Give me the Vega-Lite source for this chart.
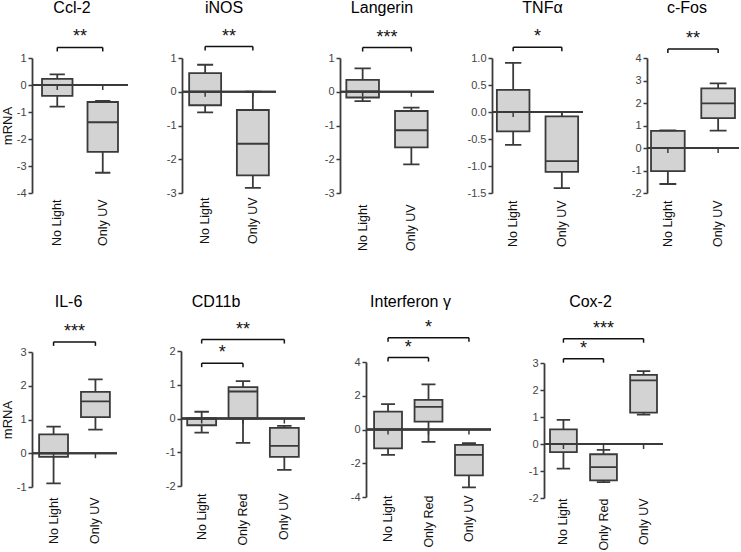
{
"$schema": "https://vega.github.io/schema/vega-lite/v6.json",
"padding": {"left": 1, "top": 0, "right": 0, "bottom": 0},
"datasets": {
"boxes": [
{"gene":"Ccl-2","group":"No Light","min":-0.8,"q1":-0.4,"med":0,"q3":0.23,"max":0.39},
{"gene":"Ccl-2","group":"Only UV","min":-3.25,"q1":-2.48,"med":-1.38,"q3":-0.63,"max":-0.59},
{"gene":"iNOS","group":"No Light","min":-0.61,"q1":-0.4,"med":0,"q3":0.55,"max":0.8},
{"gene":"iNOS","group":"Only UV","min":-2.85,"q1":-2.48,"med":-1.54,"q3":-0.54,"max":0},
{"gene":"Langerin","group":"No Light","min":-0.28,"q1":-0.17,"med":0.01,"q3":0.35,"max":0.69},
{"gene":"Langerin","group":"Only UV","min":-2.15,"q1":-1.65,"med":-1.14,"q3":-0.57,"max":-0.47},
{"gene":"TNFα","group":"No Light","min":-0.61,"q1":-0.36,"med":0,"q3":0.41,"max":0.91},
{"gene":"TNFα","group":"Only UV","min":-1.41,"q1":-1.11,"med":-0.91,"q3":-0.08,"max":0},
{"gene":"c-Fos","group":"No Light","min":-1.6,"q1":-1.03,"med":0,"q3":0.76,"max":0.78},
{"gene":"c-Fos","group":"Only UV","min":0.77,"q1":1.33,"med":1.98,"q3":2.65,"max":2.87},
{"gene":"IL-6","group":"No Light","min":-0.89,"q1":-0.11,"med":0,"q3":0.56,"max":0.79},
{"gene":"IL-6","group":"Only UV","min":0.7,"q1":1.07,"med":1.54,"q3":1.82,"max":2.19},
{"gene":"CD11b","group":"No Light","min":-0.42,"q1":-0.2,"med":0,"q3":0,"max":0.2},
{"gene":"CD11b","group":"Only Red","min":-0.72,"q1":0,"med":0.8,"q3":0.93,"max":1.11},
{"gene":"CD11b","group":"Only UV","min":-1.52,"q1":-1.14,"med":-0.81,"q3":-0.28,"max":-0.22},
{"gene":"Interferon γ","group":"No Light","min":-1.5,"q1":-1.12,"med":0,"q3":1.06,"max":1.5},
{"gene":"Interferon γ","group":"Only Red","min":-0.73,"q1":0.47,"med":1.34,"q3":1.75,"max":2.68},
{"gene":"Interferon γ","group":"Only UV","min":-3.43,"q1":-2.72,"med":-1.5,"q3":-0.91,"max":-0.81},
{"gene":"Cox-2","group":"No Light","min":-0.91,"q1":-0.3,"med":0,"q3":0.54,"max":0.89},
{"gene":"Cox-2","group":"Only Red","min":-1.41,"q1":-1.35,"med":-0.86,"q3":-0.38,"max":-0.22},
{"gene":"Cox-2","group":"Only UV","min":1.09,"q1":1.16,"med":2.36,"q3":2.56,"max":2.7}
],
"brackets": [
{"gene":"Ccl-2","from":"No Light","to":"Only UV","level":1.39,"stars":"**","mode":"mid"},
{"gene":"iNOS","from":"No Light","to":"Only UV","level":1.34,"stars":"**","mode":"mid"},
{"gene":"Langerin","from":"No Light","to":"Only UV","level":1.31,"stars":"***","mode":"mid"},
{"gene":"TNFα","from":"No Light","to":"Only UV","level":1.2,"stars":"*","mode":"mid"},
{"gene":"c-Fos","from":"No Light","to":"Only UV","level":4.4,"stars":"**","mode":"mid"},
{"gene":"IL-6","from":"No Light","to":"Only UV","level":3.3,"stars":"***","mode":"mid"},
{"gene":"CD11b","from":"No Light","to":"Only UV","level":2.34,"stars":"**","mode":"mid"},
{"gene":"CD11b","from":"No Light","to":"Only Red","level":1.64,"stars":"*","mode":"pair"},
{"gene":"Interferon γ","from":"No Light","to":"Only UV","level":5.44,"stars":"*","mode":"mid"},
{"gene":"Interferon γ","from":"No Light","to":"Only Red","level":4.26,"stars":"*","mode":"pair"},
{"gene":"Cox-2","from":"No Light","to":"Only UV","level":3.9,"stars":"***","mode":"mid"},
{"gene":"Cox-2","from":"No Light","to":"Only Red","level":3.16,"stars":"*","mode":"pair"}
]
},
"vconcat": [
{"spacing": 10, "hconcat": [
{"width":96,"height":173,"title":{"text":"Ccl-2","dx":-8},
"layer":[
{"data":{"name":"boxes"},"transform":[{"filter":{"field":"gene","equal":"Ccl-2"}}],
"layer":[
{"mark":{"type":"rule","stroke":"#3a3a3a","strokeWidth":1.8},"encoding":{"x":{"field":"group","type":"nominal","bandPosition":0.5,"scale":{"domain":["No Light","Only UV"],"paddingInner":0.33,"paddingOuter":0.22},"axis":{"title":null,"labelPadding":6}},"y":{"field":"min","type":"quantitative","scale":{"domain":[-4,1],"range":[173,38],"nice":false,"zero":false},"axis":{"title":"mRNA","values":[-4,-3,-2,-1,0,1],"tickCount":6,"labelOverlap":false,"labelExpr":"replace(datum.label, '−', '-')","minExtent":16,"maxExtent":16}},"y2":{"field":"max"}}},
{"mark":{"type":"bar","fill":"#d3d3d3","stroke":"#3a3a3a","strokeWidth":1.8},"encoding":{"x":{"field":"group","type":"nominal"},"y":{"field":"q1","type":"quantitative"},"y2":{"field":"q3"}}},
{"mark":{"type":"bar","fillOpacity":0,"stroke":"#3a3a3a","strokeWidth":1.8},"encoding":{"x":{"field":"group","type":"nominal"},"y":{"field":"med","type":"quantitative"},"y2":{"field":"med"}}},
{"mark":{"type":"bar","fillOpacity":0,"stroke":"#3a3a3a","strokeWidth":1.8,"width":{"band":0.5}},"encoding":{"x":{"field":"group","type":"nominal"},"y":{"field":"max","type":"quantitative"},"y2":{"field":"max"}}},
{"mark":{"type":"bar","fillOpacity":0,"stroke":"#3a3a3a","strokeWidth":1.8,"width":{"band":0.5}},"encoding":{"x":{"field":"group","type":"nominal"},"y":{"field":"min","type":"quantitative"},"y2":{"field":"min"}}},
{"mark":{"type":"rule","stroke":"#3a3a3a","strokeWidth":1.8},"encoding":{"y":{"datum":0,"type":"quantitative"}}},
{"mark":{"type":"rule","stroke":"#3a3a3a","strokeWidth":1.5,"y2Offset":5},"encoding":{"x":{"field":"group","type":"nominal","bandPosition":0.5},"y":{"datum":0,"type":"quantitative"},"y2":{"datum":0}}}
]},
{"data":{"name":"brackets"},"transform":[{"filter":{"field":"gene","equal":"Ccl-2"}}],
"layer":[
{"mark":{"type":"rule","stroke":"#111","strokeWidth":1.5},"encoding":{"x":{"field":"from","type":"nominal","bandPosition":0.5},"x2":{"field":"to","bandPosition":0.5},"y":{"field":"level","type":"quantitative"}}},
{"mark":{"type":"rule","stroke":"#111","strokeWidth":1.5,"y2Offset":4},"encoding":{"x":{"field":"from","type":"nominal","bandPosition":0.5},"y":{"field":"level","type":"quantitative"},"y2":{"field":"level"}}},
{"mark":{"type":"rule","stroke":"#111","strokeWidth":1.5,"y2Offset":4},"encoding":{"x":{"field":"to","type":"nominal","bandPosition":0.5},"y":{"field":"level","type":"quantitative"},"y2":{"field":"level"}}},
{"transform":[{"filter":{"field":"mode","equal":"mid"}}],"mark":{"type":"text","fontSize":18,"dy":-5,"baseline":"alphabetic","color":"#111"},"encoding":{"y":{"field":"level","type":"quantitative"},"text":{"field":"stars"}}}
]}
]},
{"width":94,"height":173,"title":{"text":"iNOS","dx":-5},
"layer":[
{"data":{"name":"boxes"},"transform":[{"filter":{"field":"gene","equal":"iNOS"}}],
"layer":[
{"mark":{"type":"rule","stroke":"#3a3a3a","strokeWidth":1.8},"encoding":{"x":{"field":"group","type":"nominal","bandPosition":0.5,"scale":{"domain":["No Light","Only UV"],"paddingInner":0.33,"paddingOuter":0.15},"axis":{"title":null,"labelPadding":4}},"y":{"field":"min","type":"quantitative","scale":{"domain":[-3,1],"range":[173,38],"nice":false,"zero":false},"axis":{"title":null,"values":[-3,-2,-1,0,1],"tickCount":5,"labelOverlap":false,"labelExpr":"replace(datum.label, '−', '-')","minExtent":43}},"y2":{"field":"max"}}},
{"mark":{"type":"bar","fill":"#d3d3d3","stroke":"#3a3a3a","strokeWidth":1.8},"encoding":{"x":{"field":"group","type":"nominal"},"y":{"field":"q1","type":"quantitative"},"y2":{"field":"q3"}}},
{"mark":{"type":"bar","fillOpacity":0,"stroke":"#3a3a3a","strokeWidth":1.8},"encoding":{"x":{"field":"group","type":"nominal"},"y":{"field":"med","type":"quantitative"},"y2":{"field":"med"}}},
{"mark":{"type":"bar","fillOpacity":0,"stroke":"#3a3a3a","strokeWidth":1.8,"width":{"band":0.5}},"encoding":{"x":{"field":"group","type":"nominal"},"y":{"field":"max","type":"quantitative"},"y2":{"field":"max"}}},
{"mark":{"type":"bar","fillOpacity":0,"stroke":"#3a3a3a","strokeWidth":1.8,"width":{"band":0.5}},"encoding":{"x":{"field":"group","type":"nominal"},"y":{"field":"min","type":"quantitative"},"y2":{"field":"min"}}},
{"mark":{"type":"rule","stroke":"#3a3a3a","strokeWidth":1.8},"encoding":{"y":{"datum":0,"type":"quantitative"}}},
{"mark":{"type":"rule","stroke":"#3a3a3a","strokeWidth":1.5,"y2Offset":5},"encoding":{"x":{"field":"group","type":"nominal","bandPosition":0.5},"y":{"datum":0,"type":"quantitative"},"y2":{"datum":0}}}
]},
{"data":{"name":"brackets"},"transform":[{"filter":{"field":"gene","equal":"iNOS"}}],
"layer":[
{"mark":{"type":"rule","stroke":"#111","strokeWidth":1.5},"encoding":{"x":{"field":"from","type":"nominal","bandPosition":0.5},"x2":{"field":"to","bandPosition":0.5},"y":{"field":"level","type":"quantitative"}}},
{"mark":{"type":"rule","stroke":"#111","strokeWidth":1.5,"y2Offset":4},"encoding":{"x":{"field":"from","type":"nominal","bandPosition":0.5},"y":{"field":"level","type":"quantitative"},"y2":{"field":"level"}}},
{"mark":{"type":"rule","stroke":"#111","strokeWidth":1.5,"y2Offset":4},"encoding":{"x":{"field":"to","type":"nominal","bandPosition":0.5},"y":{"field":"level","type":"quantitative"},"y2":{"field":"level"}}},
{"transform":[{"filter":{"field":"mode","equal":"mid"}}],"mark":{"type":"text","fontSize":18,"dy":-5,"baseline":"alphabetic","color":"#111"},"encoding":{"y":{"field":"level","type":"quantitative"},"text":{"field":"stars"}}}
]}
]},
{"width":94,"height":173,"title":{"text":"Langerin","dx":-5},
"layer":[
{"data":{"name":"boxes"},"transform":[{"filter":{"field":"gene","equal":"Langerin"}}],
"layer":[
{"mark":{"type":"rule","stroke":"#3a3a3a","strokeWidth":1.8},"encoding":{"x":{"field":"group","type":"nominal","bandPosition":0.5,"scale":{"domain":["No Light","Only UV"],"paddingInner":0.33,"paddingOuter":0.13},"axis":{"title":null,"labelPadding":11}},"y":{"field":"min","type":"quantitative","scale":{"domain":[-3,1],"range":[173,38],"nice":false,"zero":false},"axis":{"title":null,"values":[-3,-2,-1,0,1],"tickCount":5,"labelOverlap":false,"labelExpr":"replace(datum.label, '−', '-')","minExtent":53}},"y2":{"field":"max"}}},
{"mark":{"type":"bar","fill":"#d3d3d3","stroke":"#3a3a3a","strokeWidth":1.8},"encoding":{"x":{"field":"group","type":"nominal"},"y":{"field":"q1","type":"quantitative"},"y2":{"field":"q3"}}},
{"mark":{"type":"bar","fillOpacity":0,"stroke":"#3a3a3a","strokeWidth":1.8},"encoding":{"x":{"field":"group","type":"nominal"},"y":{"field":"med","type":"quantitative"},"y2":{"field":"med"}}},
{"mark":{"type":"bar","fillOpacity":0,"stroke":"#3a3a3a","strokeWidth":1.8,"width":{"band":0.5}},"encoding":{"x":{"field":"group","type":"nominal"},"y":{"field":"max","type":"quantitative"},"y2":{"field":"max"}}},
{"mark":{"type":"bar","fillOpacity":0,"stroke":"#3a3a3a","strokeWidth":1.8,"width":{"band":0.5}},"encoding":{"x":{"field":"group","type":"nominal"},"y":{"field":"min","type":"quantitative"},"y2":{"field":"min"}}},
{"mark":{"type":"rule","stroke":"#3a3a3a","strokeWidth":1.8},"encoding":{"y":{"datum":0,"type":"quantitative"}}},
{"mark":{"type":"rule","stroke":"#3a3a3a","strokeWidth":1.5,"y2Offset":5},"encoding":{"x":{"field":"group","type":"nominal","bandPosition":0.5},"y":{"datum":0,"type":"quantitative"},"y2":{"datum":0}}}
]},
{"data":{"name":"brackets"},"transform":[{"filter":{"field":"gene","equal":"Langerin"}}],
"layer":[
{"mark":{"type":"rule","stroke":"#111","strokeWidth":1.5},"encoding":{"x":{"field":"from","type":"nominal","bandPosition":0.5},"x2":{"field":"to","bandPosition":0.5},"y":{"field":"level","type":"quantitative"}}},
{"mark":{"type":"rule","stroke":"#111","strokeWidth":1.5,"y2Offset":4},"encoding":{"x":{"field":"from","type":"nominal","bandPosition":0.5},"y":{"field":"level","type":"quantitative"},"y2":{"field":"level"}}},
{"mark":{"type":"rule","stroke":"#111","strokeWidth":1.5,"y2Offset":4},"encoding":{"x":{"field":"to","type":"nominal","bandPosition":0.5},"y":{"field":"level","type":"quantitative"},"y2":{"field":"level"}}},
{"transform":[{"filter":{"field":"mode","equal":"mid"}}],"mark":{"type":"text","fontSize":18,"dy":-5,"baseline":"alphabetic","color":"#111"},"encoding":{"y":{"field":"level","type":"quantitative"},"text":{"field":"stars"}}}
]}
]},
{"width":91,"height":173,"title":{"text":"TNFα","dx":5},
"layer":[
{"data":{"name":"boxes"},"transform":[{"filter":{"field":"gene","equal":"TNFα"}}],
"layer":[
{"mark":{"type":"rule","stroke":"#3a3a3a","strokeWidth":1.8},"encoding":{"x":{"field":"group","type":"nominal","bandPosition":0.5,"scale":{"domain":["No Light","Only UV"],"paddingInner":0.33,"paddingOuter":0.1},"axis":{"title":null,"labelPadding":7}},"y":{"field":"min","type":"quantitative","scale":{"domain":[-1.5,1],"range":[173,38],"nice":false,"zero":false},"axis":{"title":null,"values":[-1.5,-1,-0.5,0,0.5,1],"tickCount":6,"labelOverlap":false,"format":".1f","labelExpr":"replace(datum.label, '−', '-')","minExtent":47}},"y2":{"field":"max"}}},
{"mark":{"type":"bar","fill":"#d3d3d3","stroke":"#3a3a3a","strokeWidth":1.8},"encoding":{"x":{"field":"group","type":"nominal"},"y":{"field":"q1","type":"quantitative"},"y2":{"field":"q3"}}},
{"mark":{"type":"bar","fillOpacity":0,"stroke":"#3a3a3a","strokeWidth":1.8},"encoding":{"x":{"field":"group","type":"nominal"},"y":{"field":"med","type":"quantitative"},"y2":{"field":"med"}}},
{"mark":{"type":"bar","fillOpacity":0,"stroke":"#3a3a3a","strokeWidth":1.8,"width":{"band":0.5}},"encoding":{"x":{"field":"group","type":"nominal"},"y":{"field":"max","type":"quantitative"},"y2":{"field":"max"}}},
{"mark":{"type":"bar","fillOpacity":0,"stroke":"#3a3a3a","strokeWidth":1.8,"width":{"band":0.5}},"encoding":{"x":{"field":"group","type":"nominal"},"y":{"field":"min","type":"quantitative"},"y2":{"field":"min"}}},
{"mark":{"type":"rule","stroke":"#3a3a3a","strokeWidth":1.8},"encoding":{"y":{"datum":0,"type":"quantitative"}}},
{"mark":{"type":"rule","stroke":"#3a3a3a","strokeWidth":1.5,"y2Offset":5},"encoding":{"x":{"field":"group","type":"nominal","bandPosition":0.5},"y":{"datum":0,"type":"quantitative"},"y2":{"datum":0}}}
]},
{"data":{"name":"brackets"},"transform":[{"filter":{"field":"gene","equal":"TNFα"}}],
"layer":[
{"mark":{"type":"rule","stroke":"#111","strokeWidth":1.5},"encoding":{"x":{"field":"from","type":"nominal","bandPosition":0.5},"x2":{"field":"to","bandPosition":0.5},"y":{"field":"level","type":"quantitative"}}},
{"mark":{"type":"rule","stroke":"#111","strokeWidth":1.5,"y2Offset":4},"encoding":{"x":{"field":"from","type":"nominal","bandPosition":0.5},"y":{"field":"level","type":"quantitative"},"y2":{"field":"level"}}},
{"mark":{"type":"rule","stroke":"#111","strokeWidth":1.5,"y2Offset":4},"encoding":{"x":{"field":"to","type":"nominal","bandPosition":0.5},"y":{"field":"level","type":"quantitative"},"y2":{"field":"level"}}},
{"transform":[{"filter":{"field":"mode","equal":"mid"}}],"mark":{"type":"text","fontSize":18,"dy":-5,"baseline":"alphabetic","color":"#111"},"encoding":{"y":{"field":"level","type":"quantitative"},"text":{"field":"stars"}}}
]}
]},
{"width":92,"height":173,"title":{"text":"c-Fos","dx":-6},
"layer":[
{"data":{"name":"boxes"},"transform":[{"filter":{"field":"gene","equal":"c-Fos"}}],
"layer":[
{"mark":{"type":"rule","stroke":"#3a3a3a","strokeWidth":1.8},"encoding":{"x":{"field":"group","type":"nominal","bandPosition":0.5,"scale":{"domain":["No Light","Only UV"],"paddingInner":0.33,"paddingOuter":0.08},"axis":{"title":null,"labelPadding":7}},"y":{"field":"min","type":"quantitative","scale":{"domain":[-2,4],"range":[173,38],"nice":false,"zero":false},"axis":{"title":null,"values":[-2,-1,0,1,2,3,4],"tickCount":7,"labelOverlap":false,"labelExpr":"replace(datum.label, '−', '-')","minExtent":53}},"y2":{"field":"max"}}},
{"mark":{"type":"bar","fill":"#d3d3d3","stroke":"#3a3a3a","strokeWidth":1.8},"encoding":{"x":{"field":"group","type":"nominal"},"y":{"field":"q1","type":"quantitative"},"y2":{"field":"q3"}}},
{"mark":{"type":"bar","fillOpacity":0,"stroke":"#3a3a3a","strokeWidth":1.8},"encoding":{"x":{"field":"group","type":"nominal"},"y":{"field":"med","type":"quantitative"},"y2":{"field":"med"}}},
{"mark":{"type":"bar","fillOpacity":0,"stroke":"#3a3a3a","strokeWidth":1.8,"width":{"band":0.5}},"encoding":{"x":{"field":"group","type":"nominal"},"y":{"field":"max","type":"quantitative"},"y2":{"field":"max"}}},
{"mark":{"type":"bar","fillOpacity":0,"stroke":"#3a3a3a","strokeWidth":1.8,"width":{"band":0.5}},"encoding":{"x":{"field":"group","type":"nominal"},"y":{"field":"min","type":"quantitative"},"y2":{"field":"min"}}},
{"mark":{"type":"rule","stroke":"#3a3a3a","strokeWidth":1.8},"encoding":{"y":{"datum":0,"type":"quantitative"}}},
{"mark":{"type":"rule","stroke":"#3a3a3a","strokeWidth":1.5,"y2Offset":5},"encoding":{"x":{"field":"group","type":"nominal","bandPosition":0.5},"y":{"datum":0,"type":"quantitative"},"y2":{"datum":0}}}
]},
{"data":{"name":"brackets"},"transform":[{"filter":{"field":"gene","equal":"c-Fos"}}],
"layer":[
{"mark":{"type":"rule","stroke":"#111","strokeWidth":1.5},"encoding":{"x":{"field":"from","type":"nominal","bandPosition":0.5},"x2":{"field":"to","bandPosition":0.5},"y":{"field":"level","type":"quantitative"}}},
{"mark":{"type":"rule","stroke":"#111","strokeWidth":1.5,"y2Offset":4},"encoding":{"x":{"field":"from","type":"nominal","bandPosition":0.5},"y":{"field":"level","type":"quantitative"},"y2":{"field":"level"}}},
{"mark":{"type":"rule","stroke":"#111","strokeWidth":1.5,"y2Offset":4},"encoding":{"x":{"field":"to","type":"nominal","bandPosition":0.5},"y":{"field":"level","type":"quantitative"},"y2":{"field":"level"}}},
{"transform":[{"filter":{"field":"mode","equal":"mid"}}],"mark":{"type":"text","fontSize":18,"dy":-5,"baseline":"alphabetic","color":"#111"},"encoding":{"y":{"field":"level","type":"quantitative"},"text":{"field":"stars"}}}
]}
]}
]},
{"spacing": 10, "hconcat": [
{"width":85,"height":173,"title":{"text":"IL-6","dx":-6},
"layer":[
{"data":{"name":"boxes"},"transform":[{"filter":{"field":"gene","equal":"IL-6"}}],
"layer":[
{"mark":{"type":"rule","stroke":"#3a3a3a","strokeWidth":1.8},"encoding":{"x":{"field":"group","type":"nominal","bandPosition":0.5,"scale":{"domain":["No Light","Only UV"],"paddingInner":0.31,"paddingOuter":0.17},"axis":{"title":null,"labelPadding":10}},"y":{"field":"min","type":"quantitative","scale":{"domain":[-1,3],"range":[173,38],"nice":false,"zero":false},"axis":{"title":"mRNA","values":[-1,0,1,2,3],"tickCount":5,"labelOverlap":false,"labelExpr":"replace(datum.label, '−', '-')","minExtent":16,"maxExtent":16}},"y2":{"field":"max"}}},
{"mark":{"type":"bar","fill":"#d3d3d3","stroke":"#3a3a3a","strokeWidth":1.8},"encoding":{"x":{"field":"group","type":"nominal"},"y":{"field":"q1","type":"quantitative"},"y2":{"field":"q3"}}},
{"mark":{"type":"bar","fillOpacity":0,"stroke":"#3a3a3a","strokeWidth":1.8},"encoding":{"x":{"field":"group","type":"nominal"},"y":{"field":"med","type":"quantitative"},"y2":{"field":"med"}}},
{"mark":{"type":"bar","fillOpacity":0,"stroke":"#3a3a3a","strokeWidth":1.8,"width":{"band":0.5}},"encoding":{"x":{"field":"group","type":"nominal"},"y":{"field":"max","type":"quantitative"},"y2":{"field":"max"}}},
{"mark":{"type":"bar","fillOpacity":0,"stroke":"#3a3a3a","strokeWidth":1.8,"width":{"band":0.5}},"encoding":{"x":{"field":"group","type":"nominal"},"y":{"field":"min","type":"quantitative"},"y2":{"field":"min"}}},
{"mark":{"type":"rule","stroke":"#3a3a3a","strokeWidth":1.8},"encoding":{"y":{"datum":0,"type":"quantitative"}}},
{"mark":{"type":"rule","stroke":"#3a3a3a","strokeWidth":1.5,"y2Offset":5},"encoding":{"x":{"field":"group","type":"nominal","bandPosition":0.5},"y":{"datum":0,"type":"quantitative"},"y2":{"datum":0}}}
]},
{"data":{"name":"brackets"},"transform":[{"filter":{"field":"gene","equal":"IL-6"}}],
"layer":[
{"mark":{"type":"rule","stroke":"#111","strokeWidth":1.5},"encoding":{"x":{"field":"from","type":"nominal","bandPosition":0.5},"x2":{"field":"to","bandPosition":0.5},"y":{"field":"level","type":"quantitative"}}},
{"mark":{"type":"rule","stroke":"#111","strokeWidth":1.5,"y2Offset":4},"encoding":{"x":{"field":"from","type":"nominal","bandPosition":0.5},"y":{"field":"level","type":"quantitative"},"y2":{"field":"level"}}},
{"mark":{"type":"rule","stroke":"#111","strokeWidth":1.5,"y2Offset":4},"encoding":{"x":{"field":"to","type":"nominal","bandPosition":0.5},"y":{"field":"level","type":"quantitative"},"y2":{"field":"level"}}},
{"transform":[{"filter":{"field":"mode","equal":"mid"}}],"mark":{"type":"text","fontSize":18,"dy":-5,"baseline":"alphabetic","color":"#111"},"encoding":{"y":{"field":"level","type":"quantitative"},"text":{"field":"stars"}}}
]}
]},
{"width":124,"height":172,"title":{"text":"CD11b","dx":-27},
"layer":[
{"data":{"name":"boxes"},"transform":[{"filter":{"field":"gene","equal":"CD11b"}}],
"layer":[
{"mark":{"type":"rule","stroke":"#3a3a3a","strokeWidth":1.8},"encoding":{"x":{"field":"group","type":"nominal","bandPosition":0.5,"scale":{"domain":["No Light","Only Red","Only UV"],"paddingInner":0.3,"paddingOuter":0.15},"axis":{"title":null,"labelPadding":7}},"y":{"field":"min","type":"quantitative","scale":{"domain":[-2,2],"range":[172,37],"nice":false,"zero":false},"axis":{"title":null,"values":[-2,-1,0,1,2],"tickCount":5,"labelOverlap":false,"labelExpr":"replace(datum.label, '−', '-')","minExtent":53}},"y2":{"field":"max"}}},
{"mark":{"type":"bar","fill":"#d3d3d3","stroke":"#3a3a3a","strokeWidth":1.8},"encoding":{"x":{"field":"group","type":"nominal"},"y":{"field":"q1","type":"quantitative"},"y2":{"field":"q3"}}},
{"mark":{"type":"bar","fillOpacity":0,"stroke":"#3a3a3a","strokeWidth":1.8},"encoding":{"x":{"field":"group","type":"nominal"},"y":{"field":"med","type":"quantitative"},"y2":{"field":"med"}}},
{"mark":{"type":"bar","fillOpacity":0,"stroke":"#3a3a3a","strokeWidth":1.8,"width":{"band":0.5}},"encoding":{"x":{"field":"group","type":"nominal"},"y":{"field":"max","type":"quantitative"},"y2":{"field":"max"}}},
{"mark":{"type":"bar","fillOpacity":0,"stroke":"#3a3a3a","strokeWidth":1.8,"width":{"band":0.5}},"encoding":{"x":{"field":"group","type":"nominal"},"y":{"field":"min","type":"quantitative"},"y2":{"field":"min"}}},
{"mark":{"type":"rule","stroke":"#3a3a3a","strokeWidth":1.8},"encoding":{"y":{"datum":0,"type":"quantitative"}}},
{"mark":{"type":"rule","stroke":"#3a3a3a","strokeWidth":1.5,"y2Offset":5},"encoding":{"x":{"field":"group","type":"nominal","bandPosition":0.5},"y":{"datum":0,"type":"quantitative"},"y2":{"datum":0}}}
]},
{"data":{"name":"brackets"},"transform":[{"filter":{"field":"gene","equal":"CD11b"}}],
"layer":[
{"mark":{"type":"rule","stroke":"#111","strokeWidth":1.5},"encoding":{"x":{"field":"from","type":"nominal","bandPosition":0.5},"x2":{"field":"to","bandPosition":0.5},"y":{"field":"level","type":"quantitative"}}},
{"mark":{"type":"rule","stroke":"#111","strokeWidth":1.5,"y2Offset":4},"encoding":{"x":{"field":"from","type":"nominal","bandPosition":0.5},"y":{"field":"level","type":"quantitative"},"y2":{"field":"level"}}},
{"mark":{"type":"rule","stroke":"#111","strokeWidth":1.5,"y2Offset":4},"encoding":{"x":{"field":"to","type":"nominal","bandPosition":0.5},"y":{"field":"level","type":"quantitative"},"y2":{"field":"level"}}},
{"transform":[{"filter":{"field":"mode","equal":"mid"}}],"mark":{"type":"text","fontSize":18,"dy":-5,"baseline":"alphabetic","color":"#111"},"encoding":{"y":{"field":"level","type":"quantitative"},"text":{"field":"stars"}}},
{"transform":[{"filter":{"field":"mode","equal":"pair"}}],"mark":{"type":"text","fontSize":18,"dy":-5,"baseline":"alphabetic","color":"#111"},"encoding":{"x":{"field":"from","type":"nominal","bandPosition":1.214},"y":{"field":"level","type":"quantitative"},"text":{"field":"stars"}}}
]}
]},
{"width":125,"height":183,"title":{"text":"Interferon γ","dx":-18},
"layer":[
{"data":{"name":"boxes"},"transform":[{"filter":{"field":"gene","equal":"Interferon γ"}}],
"layer":[
{"mark":{"type":"rule","stroke":"#3a3a3a","strokeWidth":1.8},"encoding":{"x":{"field":"group","type":"nominal","bandPosition":0.5,"scale":{"domain":["No Light","Only Red","Only UV"],"paddingInner":0.31,"paddingOuter":0.2},"axis":{"title":null,"labelPadding":-2}},"y":{"field":"min","type":"quantitative","scale":{"domain":[-4,4],"range":[183,48],"nice":false,"zero":false},"axis":{"title":null,"values":[-4,-2,0,2,4],"tickCount":5,"labelOverlap":false,"labelExpr":"replace(datum.label, '−', '-')","minExtent":50}},"y2":{"field":"max"}}},
{"mark":{"type":"bar","fill":"#d3d3d3","stroke":"#3a3a3a","strokeWidth":1.8},"encoding":{"x":{"field":"group","type":"nominal"},"y":{"field":"q1","type":"quantitative"},"y2":{"field":"q3"}}},
{"mark":{"type":"bar","fillOpacity":0,"stroke":"#3a3a3a","strokeWidth":1.8},"encoding":{"x":{"field":"group","type":"nominal"},"y":{"field":"med","type":"quantitative"},"y2":{"field":"med"}}},
{"mark":{"type":"bar","fillOpacity":0,"stroke":"#3a3a3a","strokeWidth":1.8,"width":{"band":0.5}},"encoding":{"x":{"field":"group","type":"nominal"},"y":{"field":"max","type":"quantitative"},"y2":{"field":"max"}}},
{"mark":{"type":"bar","fillOpacity":0,"stroke":"#3a3a3a","strokeWidth":1.8,"width":{"band":0.5}},"encoding":{"x":{"field":"group","type":"nominal"},"y":{"field":"min","type":"quantitative"},"y2":{"field":"min"}}},
{"mark":{"type":"rule","stroke":"#3a3a3a","strokeWidth":1.8},"encoding":{"y":{"datum":0,"type":"quantitative"}}},
{"mark":{"type":"rule","stroke":"#3a3a3a","strokeWidth":1.5,"y2Offset":5},"encoding":{"x":{"field":"group","type":"nominal","bandPosition":0.5},"y":{"datum":0,"type":"quantitative"},"y2":{"datum":0}}}
]},
{"data":{"name":"brackets"},"transform":[{"filter":{"field":"gene","equal":"Interferon γ"}}],
"layer":[
{"mark":{"type":"rule","stroke":"#111","strokeWidth":1.5},"encoding":{"x":{"field":"from","type":"nominal","bandPosition":0.5},"x2":{"field":"to","bandPosition":0.5},"y":{"field":"level","type":"quantitative"}}},
{"mark":{"type":"rule","stroke":"#111","strokeWidth":1.5,"y2Offset":4},"encoding":{"x":{"field":"from","type":"nominal","bandPosition":0.5},"y":{"field":"level","type":"quantitative"},"y2":{"field":"level"}}},
{"mark":{"type":"rule","stroke":"#111","strokeWidth":1.5,"y2Offset":4},"encoding":{"x":{"field":"to","type":"nominal","bandPosition":0.5},"y":{"field":"level","type":"quantitative"},"y2":{"field":"level"}}},
{"transform":[{"filter":{"field":"mode","equal":"mid"}}],"mark":{"type":"text","fontSize":18,"dy":-5,"baseline":"alphabetic","color":"#111"},"encoding":{"y":{"field":"level","type":"quantitative"},"text":{"field":"stars"}}},
{"transform":[{"filter":{"field":"mode","equal":"pair"}}],"mark":{"type":"text","fontSize":18,"dy":-5,"baseline":"alphabetic","color":"#111"},"encoding":{"x":{"field":"from","type":"nominal","bandPosition":1.225},"y":{"field":"level","type":"quantitative"},"text":{"field":"stars"}}}
]}
]},
{"width":119,"height":184,"title":{"text":"Cox-2","dx":-13},
"layer":[
{"data":{"name":"boxes"},"transform":[{"filter":{"field":"gene","equal":"Cox-2"}}],
"layer":[
{"mark":{"type":"rule","stroke":"#3a3a3a","strokeWidth":1.8},"encoding":{"x":{"field":"group","type":"nominal","bandPosition":0.5,"scale":{"domain":["No Light","Only Red","Only UV"],"paddingInner":0.33,"paddingOuter":0.15},"axis":{"title":null,"labelPadding":0}},"y":{"field":"min","type":"quantitative","scale":{"domain":[-2,3],"range":[184,49],"nice":false,"zero":false},"axis":{"title":null,"values":[-2,-1,0,1,2,3],"tickCount":6,"labelOverlap":false,"labelExpr":"replace(datum.label, '−', '-')","minExtent":42}},"y2":{"field":"max"}}},
{"mark":{"type":"bar","fill":"#d3d3d3","stroke":"#3a3a3a","strokeWidth":1.8},"encoding":{"x":{"field":"group","type":"nominal"},"y":{"field":"q1","type":"quantitative"},"y2":{"field":"q3"}}},
{"mark":{"type":"bar","fillOpacity":0,"stroke":"#3a3a3a","strokeWidth":1.8},"encoding":{"x":{"field":"group","type":"nominal"},"y":{"field":"med","type":"quantitative"},"y2":{"field":"med"}}},
{"mark":{"type":"bar","fillOpacity":0,"stroke":"#3a3a3a","strokeWidth":1.8,"width":{"band":0.5}},"encoding":{"x":{"field":"group","type":"nominal"},"y":{"field":"max","type":"quantitative"},"y2":{"field":"max"}}},
{"mark":{"type":"bar","fillOpacity":0,"stroke":"#3a3a3a","strokeWidth":1.8,"width":{"band":0.5}},"encoding":{"x":{"field":"group","type":"nominal"},"y":{"field":"min","type":"quantitative"},"y2":{"field":"min"}}},
{"mark":{"type":"rule","stroke":"#3a3a3a","strokeWidth":1.8},"encoding":{"y":{"datum":0,"type":"quantitative"}}},
{"mark":{"type":"rule","stroke":"#3a3a3a","strokeWidth":1.5,"y2Offset":5},"encoding":{"x":{"field":"group","type":"nominal","bandPosition":0.5},"y":{"datum":0,"type":"quantitative"},"y2":{"datum":0}}}
]},
{"data":{"name":"brackets"},"transform":[{"filter":{"field":"gene","equal":"Cox-2"}}],
"layer":[
{"mark":{"type":"rule","stroke":"#111","strokeWidth":1.5},"encoding":{"x":{"field":"from","type":"nominal","bandPosition":0.5},"x2":{"field":"to","bandPosition":0.5},"y":{"field":"level","type":"quantitative"}}},
{"mark":{"type":"rule","stroke":"#111","strokeWidth":1.5,"y2Offset":4},"encoding":{"x":{"field":"from","type":"nominal","bandPosition":0.5},"y":{"field":"level","type":"quantitative"},"y2":{"field":"level"}}},
{"mark":{"type":"rule","stroke":"#111","strokeWidth":1.5,"y2Offset":4},"encoding":{"x":{"field":"to","type":"nominal","bandPosition":0.5},"y":{"field":"level","type":"quantitative"},"y2":{"field":"level"}}},
{"transform":[{"filter":{"field":"mode","equal":"mid"}}],"mark":{"type":"text","fontSize":18,"dy":-5,"baseline":"alphabetic","color":"#111"},"encoding":{"y":{"field":"level","type":"quantitative"},"text":{"field":"stars"}}},
{"transform":[{"filter":{"field":"mode","equal":"pair"}}],"mark":{"type":"text","fontSize":18,"dy":-5,"baseline":"alphabetic","color":"#111"},"encoding":{"x":{"field":"from","type":"nominal","bandPosition":1.246},"y":{"field":"level","type":"quantitative"},"text":{"field":"stars"}}}
]}
]}
]}
],
"spacing": 43,
"config": {
"font": "Liberation Sans",
"view": {"stroke": null},
"title": {"fontSize": 16, "fontWeight": "normal", "color": "#000", "anchor": "middle", "frame": "group", "offset": 4, "font": "Liberation Sans"},
"axis": {"grid": false, "domainColor": "#3a3a3a", "domainWidth": 1.8, "tickColor": "#3a3a3a", "tickWidth": 1.5, "labelColor": "#444", "labelFont": "Liberation Sans", "titleFont": "Liberation Sans", "labelOverlap": false},
"axisY": {"tickSize": 4, "labelFontSize": 11, "labelPadding": 2, "titleFontSize": 13, "titleFontWeight": "normal", "titleColor": "#111", "titlePadding": 2},
"axisX": {"domain": false, "ticks": false, "labelAngle": -90, "labelFontSize": 12.5, "labelColor": "#111"}
}
}
